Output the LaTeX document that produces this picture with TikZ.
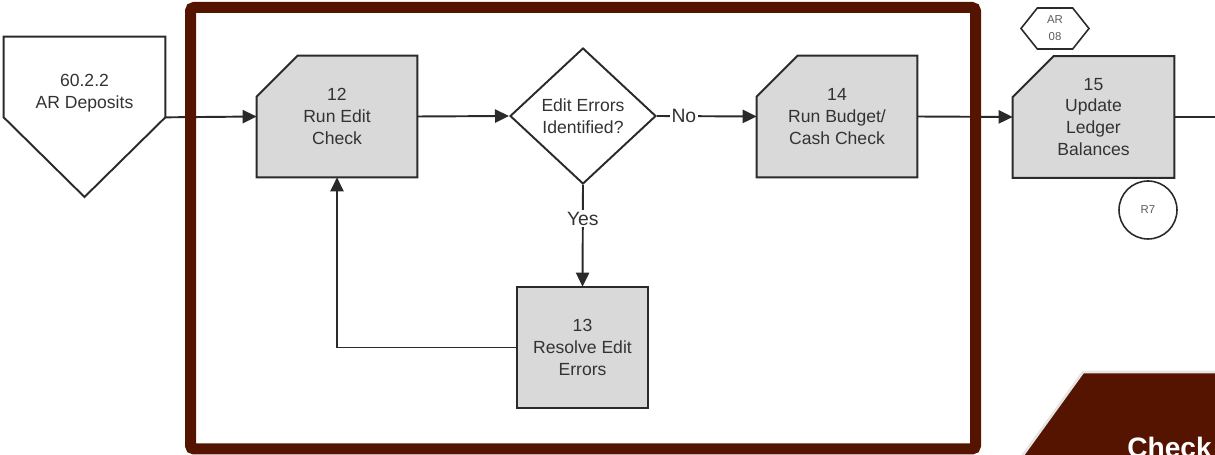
\documentclass[tikz,border=0pt]{standalone}
\usepackage{fontspec}
\setmainfont{Liberation Sans}
\usetikzlibrary{shapes.geometric,shapes.symbols,arrows.meta,backgrounds}
\definecolor{framebrown}{HTML}{541400}
\definecolor{ink}{HTML}{2A2A2A}
\definecolor{boxfill}{HTML}{D9D9D9}
\definecolor{txt}{HTML}{333333}

% outline of a process box with its top-left corner cut off
\newcommand\chamferbox[1]{%
  \draw[outline,fill=boxfill] ([yshift=-0.82cm]#1.north west) -- ([xshift=0.82cm]#1.north west)
    -- (#1.north east) -- (#1.south east) -- (#1.south west) -- cycle;}

\begin{document}
\begin{tikzpicture}[x=0.02cm,y=-0.02cm,
  outline/.style={draw=ink,line width=1.1pt},
  boxtext/.style={text=txt,font=\fontsize{10}{12.5}\selectfont,align=center},
  procnode/.style={boxtext,inner sep=0pt,minimum width=3.2cm,minimum height=2.42cm},
  decision/.style={diamond,outline,fill=white,boxtext,inner sep=0pt,minimum width=2.92cm,minimum height=2.72cm},
  flow/.style={draw=ink,line width=1.1pt,-{Triangle[length=8pt,width=7.5pt]}},
  plainline/.style={draw=ink,line width=1.1pt},
  tag/.style={fill=white,inner sep=1pt,text=txt,font=\fontsize{11}{12}\selectfont},
  smalltext/.style={text=txt!80,font=\fontsize{6.5}{9.6}\selectfont,align=center}]

\useasboundingbox (0,0) rectangle (1215,455);

% process steps
\node[procnode] (b12) at (337,116.5) {12\\Run Edit\\Check};
\node[procnode] (b14) at (837,116.5) {14\\Run Budget/\\Cash Check};
\node[procnode,minimum width=3.22cm] (b15) at (1093.5,117) {15\\Update\\Ledger\\Balances};
\node[procnode,minimum width=2.62cm] (b13) at (582.5,347.5) {13\\Resolve Edit\\Errors};
\node[decision] (dec) at (583,116) {Edit Errors\\Identified?};

% off-page connector
\node[inner sep=0pt,minimum width=3.22cm,minimum height=1.6cm] (dep) at (84.5,77) {};
\node[boxtext] (deptext) at (84.5,93.5) {60.2.2\\AR Deposits};

\begin{scope}[on background layer]
  \draw[outline,fill=white] (dep.south west) -- (dep.north west) -- (dep.north east)
    -- (dep.south east) -- (84.5,197) -- cycle;
  \chamferbox{b12}
  \chamferbox{b14}
  \chamferbox{b15}
  \draw[outline,fill=boxfill] (b13.north west) rectangle (b13.south east);
\end{scope}

% references
\node[signal,signal to=west and east,signal pointer angle=103,draw=ink,line width=0.9pt,
  minimum width=1.36cm,minimum height=0.82cm,inner sep=0pt,smalltext] (ar) at (1055,28.5) {AR\\08};
\node[circle,draw=ink,line width=0.9pt,minimum size=1.16cm,inner sep=0pt,smalltext] (r7) at (1148,210) {R7};

% connectors
\coordinate (exit) at (1225,117);
\draw[flow] (dep.south east) -- (b12.west);
\draw[flow] (b12.east) -- (dec.west);
\draw[flow] (dec.east) -- node[tag,pos=0.27] {No} (b14.west);
\draw[flow] (b14.east) -- (b15.west);
\draw[plainline] (b15.east) -- (exit);
\draw[flow] (dec.south) -- node[tag,pos=0.33] {Yes} (b13.north);
\draw[flow] (b13.west) -| (b12.south);

% highlight frame
\draw[framebrown,line width=0.22cm,rounded corners=2pt] (190.5,7.5) rectangle (975.5,449);

% corner tab
\path[fill=framebrown,draw=gray!20,line width=1.5pt] (1083,372) -- (1240,372) -- (1240,480) -- (1005,480) -- cycle;
\node[anchor=base west,inner sep=0pt,text=white,font=\bfseries\fontsize{16}{16}\selectfont] (chk) at (1127,458) {Check};
\end{tikzpicture}
\end{document}
